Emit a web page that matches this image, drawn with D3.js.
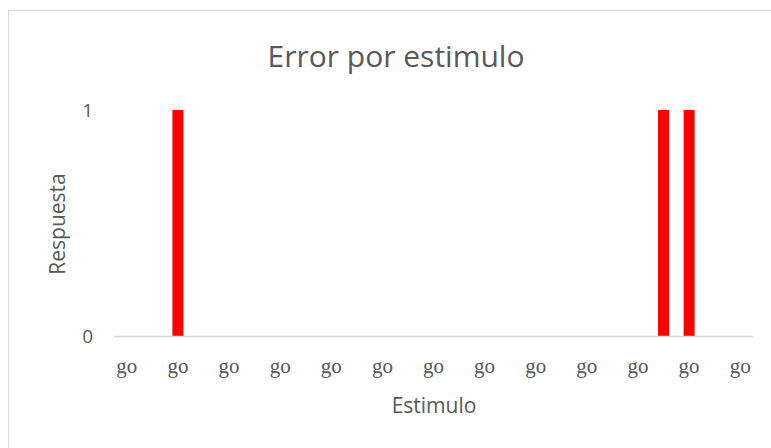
<!DOCTYPE html>
<html>
<head>
<meta charset="utf-8">
<script src="https://cdn.jsdelivr.net/npm/d3@7"></script>
<style>
  body { margin: 0; background: #fff; }
  text { font-family: "Open Sans", "Noto Sans", sans-serif; fill: #595959; }
  text.xlab { font-family: "Liberation Serif", "DejaVu Serif", serif; }
</style>
</head>
<body>
<div id="chart"></div>
<script>
// Data
var categories = ["go","go","go","go","go","go","go","go","go","go","go","go","go",
                  "go","go","go","go","go","go","go","go","go","go","go","go"];
var respuesta = [0,0,1,0,0,0,0,0,0,0,0,0,0,0,0,0,0,0,0,0,0,1,1,0,0];
var yTicks = [0, 1];

var svgWidth = 771;
var svgHeight = 448;

var margin = { top: 110, right: 18, bottom: 112, left: 114 };
var width = svgWidth - margin.left - margin.right;
var height = svgHeight - margin.top - margin.bottom;

var svg = d3.select("#chart")
    .append("svg")
    .attr("width", svgWidth)
    .attr("height", svgHeight);

// chart border
svg.append("rect")
    .attr("x", 8.5)
    .attr("y", 10.5)
    .attr("width", 780)
    .attr("height", 460)
    .attr("fill", "none")
    .attr("stroke", "#d9d9d9");

var chartGroup = svg.append("g")
    .attr("transform", `translate(${margin.left}, ${margin.top})`);

var data = categories.map((c, i) => ({ i: i, cat: c, value: respuesta[i] }));

// Scales
var xScale = d3.scaleBand()
    .domain(data.map(d => d.i))
    .range([0, width])
    .paddingInner(0.57)
    .paddingOuter(0.285);

var yScale = d3.scaleLinear()
    .domain([0, 1])
    .range([height, 0]);

// Bars
chartGroup.selectAll("rect.bar")
    .data(data)
    .enter()
    .append("rect")
    .classed("bar", true)
    .attr("x", d => xScale(d.i))
    .attr("y", d => yScale(d.value))
    .attr("width", xScale.bandwidth())
    .attr("height", d => height - yScale(d.value))
    .attr("fill", "#ff0000");

// X axis line
chartGroup.append("line")
    .attr("x1", 0)
    .attr("x2", width)
    .attr("y1", height + 0.5)
    .attr("y2", height + 0.5)
    .attr("stroke", "#d9d9d9")
    .attr("stroke-width", 1.5);

// X labels (every other category shown)
chartGroup.selectAll("text.xlab")
    .data(data.filter(d => d.i % 2 === 0))
    .enter()
    .append("text")
    .classed("xlab", true)
    .attr("x", d => xScale(d.i) + xScale.bandwidth() / 2)
    .attr("y", height + 37)
    .attr("text-anchor", "middle")
    .attr("font-size", "21px")
    .text(d => d.cat);

// Y labels
chartGroup.selectAll("text.ylab")
    .data(yTicks)
    .enter()
    .append("text")
    .classed("ylab", true)
    .attr("x", -21)
    .attr("y", d => yScale(d) + 7)
    .attr("text-anchor", "end")
    .attr("font-size", "19px")
    .text(d => d);

// Title
svg.append("text")
    .attr("x", 396)
    .attr("y", 67)
    .attr("text-anchor", "middle")
    .attr("font-size", "30px")
    .text("Error por estimulo");

// X title
svg.append("text")
    .attr("x", 434)
    .attr("y", 413)
    .attr("text-anchor", "middle")
    .attr("font-size", "21px")
    .text("Estimulo");

// Y title
svg.append("text")
    .attr("transform", `translate(65, 224) rotate(-90)`)
    .attr("text-anchor", "middle")
    .attr("font-size", "21px")
    .text("Respuesta");
</script>
</body>
</html>
